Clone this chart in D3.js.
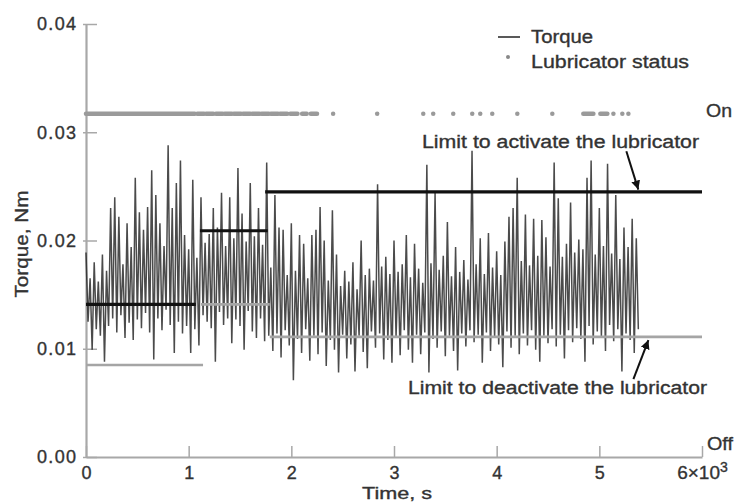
<!DOCTYPE html>
<html>
<head>
<meta charset="utf-8">
<title>Torque and lubricator status</title>
<script src="https://cdn.jsdelivr.net/npm/d3@7/dist/d3.min.js"></script>
<style>
  body { margin: 0; background: #fff; }
  text { font-family: "Liberation Sans", Arial, Helvetica, sans-serif; fill: #333; stroke: #333; stroke-width: 0.35px; }
</style>
</head>
<body>
<script>
// torque samples, one every torqueStep seconds starting at 0 (Nm)
const torqueStep = 20;
const torque = [
  0.0189, 0.0125, 0.0165, 0.0099, 0.0180, 0.0118, 0.0162, 0.0112, 0.0187, 0.0088,
  0.0172, 0.0121, 0.0230, 0.0128, 0.0240, 0.0115, 0.0222, 0.0131, 0.0178, 0.0110,
  0.0216, 0.0124, 0.0194, 0.0108, 0.0258, 0.0127, 0.0226, 0.0119, 0.0210, 0.0133,
  0.0231, 0.0115, 0.0265, 0.0090, 0.0242, 0.0128, 0.0216, 0.0117, 0.0195, 0.0136,
  0.0288, 0.0122, 0.0230, 0.0096, 0.0253, 0.0125, 0.0274, 0.0114, 0.0205, 0.0121,
  0.0192, 0.0096, 0.0256, 0.0118, 0.0184, 0.0103, 0.0240, 0.0131, 0.0198, 0.0125,
  0.0206, 0.0119, 0.0230, 0.0088, 0.0212, 0.0134, 0.0244, 0.0122, 0.0195, 0.0128,
  0.0240, 0.0105, 0.0202, 0.0127, 0.0267, 0.0121, 0.0225, 0.0099, 0.0199, 0.0135,
  0.0253, 0.0116, 0.0204, 0.0110, 0.0230, 0.0128, 0.0196, 0.0107, 0.0272, 0.0112,
  0.0175, 0.0098, 0.0242, 0.0114, 0.0212, 0.0092, 0.0210, 0.0117, 0.0168, 0.0103,
  0.0216, 0.0071, 0.0172, 0.0109, 0.0205, 0.0096, 0.0197, 0.0118, 0.0165, 0.0089,
  0.0205, 0.0112, 0.0210, 0.0095, 0.0231, 0.0115, 0.0200, 0.0084, 0.0163, 0.0108,
  0.0228, 0.0099, 0.0187, 0.0078, 0.0158, 0.0113, 0.0172, 0.0091, 0.0162, 0.0104,
  0.0180, 0.0079, 0.0155, 0.0112, 0.0200, 0.0097, 0.0168, 0.0082, 0.0174, 0.0116,
  0.0163, 0.0101, 0.0252, 0.0114, 0.0176, 0.0090, 0.0185, 0.0108, 0.0169, 0.0087,
  0.0200, 0.0111, 0.0171, 0.0094, 0.0178, 0.0117, 0.0205, 0.0099, 0.0166, 0.0087,
  0.0197, 0.0113, 0.0174, 0.0095, 0.0161, 0.0115, 0.0270, 0.0078, 0.0179, 0.0109,
  0.0244, 0.0101, 0.0173, 0.0116, 0.0186, 0.0093, 0.0217, 0.0112, 0.0167, 0.0098,
  0.0194, 0.0080, 0.0171, 0.0114, 0.0182, 0.0102, 0.0164, 0.0117, 0.0283, 0.0106,
  0.0178, 0.0113, 0.0202, 0.0087, 0.0169, 0.0115, 0.0207, 0.0098, 0.0175, 0.0111,
  0.0190, 0.0104, 0.0168, 0.0083, 0.0199, 0.0116, 0.0222, 0.0101, 0.0230, 0.0112,
  0.0258, 0.0095, 0.0181, 0.0114, 0.0224, 0.0103, 0.0177, 0.0117, 0.0220, 0.0099,
  0.0186, 0.0088, 0.0219, 0.0112, 0.0203, 0.0105, 0.0176, 0.0118, 0.0272, 0.0102,
  0.0239, 0.0113, 0.0185, 0.0091, 0.0197, 0.0117, 0.0235, 0.0106, 0.0189, 0.0119,
  0.0201, 0.0109, 0.0192, 0.0088, 0.0258, 0.0121, 0.0274, 0.0104, 0.0187, 0.0116,
  0.0230, 0.0111, 0.0195, 0.0098, 0.0271, 0.0122, 0.0188, 0.0107, 0.0242, 0.0118,
  0.0183, 0.0079, 0.0212, 0.0114, 0.0194, 0.0108, 0.0220, 0.0096, 0.0202, 0.0118
];

// limit to activate the lubricator: [start s, end s, torque]
const activateLimit = [[0, 1070, 0.0141], [1110, 1770, 0.0209], [1745, 6000, 0.0245]];
// limit to deactivate the lubricator
const deactivateLimit = [[0, 1140, 0.0085], [1120, 1790, 0.0141], [1790, 6000, 0.0111]];

// times when the lubricator was on: [start s, end s]
const lubricatorOn = [
  [0, 1060], [1085, 1150], [1170, 1240], [1265, 1330], [1350, 1420], [1440, 1510],
  [1530, 1600], [1620, 1690], [1710, 1780], [1800, 1870], [1890, 1960], [1990, 2060],
  [2105, 2150], [2190, 2250], [2407, 2407], [2836, 2836], [3285, 3285], [3382, 3382],
  [3577, 3577], [3762, 3762], [3840, 3840], [3957, 3957], [4201, 4201], [4542, 4542],
  [4844, 4942], [5010, 5078], [5137, 5137], [5224, 5224], [5283, 5283]
];
const onLevel = 0.0317;

const xTicks = [0, 1000, 2000, 3000, 4000, 5000, 6000];
const yTicks = [0, 0.01, 0.02, 0.03, 0.04];

const width = 735, height = 503;
const svg = d3.select("body").append("svg").attr("width", width).attr("height", height);

const x = d3.scaleLinear().domain([0, 6000]).range([86, 702]);
const y = d3.scaleLinear().domain([0, 0.04]).range([457, 24]);

// axes
const xAxis = svg.append("g")
  .attr("transform", `translate(0,${y(0)})`)
  .call(d3.axisBottom(x).tickValues(xTicks).tickSizeInner(-11).tickSizeOuter(0).tickPadding(9)
    .tickFormat(d => d === 6000 ? "" : d3.format("d")(d / 1000)));
xAxis.select(".domain").attr("stroke", "#a8a8a8").attr("stroke-width", 2.2);
xAxis.selectAll(".tick line").attr("stroke", "#a8a8a8").attr("stroke-width", 1.5);
xAxis.selectAll(".tick text").attr("font-size", 18).attr("fill", "#333")
  .attr("font-family", "Liberation Sans, Arial, sans-serif");
const last = xAxis.selectAll(".tick text").filter(d => d === 6000);
last.append("tspan").attr("font-size", 19).text("6×10");
last.append("tspan").attr("dy", -7).attr("font-size", 14).text("3");
last.attr("text-anchor", "middle");

const yAxis = svg.append("g")
  .attr("transform", `translate(${x(0)},0)`)
  .call(d3.axisLeft(y).tickValues(yTicks).tickSizeInner(-11).tickSizeOuter(0).tickPadding(10)
    .tickFormat(d3.format(".2f")));
yAxis.select(".domain").attr("stroke", "#a8a8a8").attr("stroke-width", 2.2);
yAxis.selectAll(".tick line").attr("stroke", "#a8a8a8").attr("stroke-width", 1.5).attr("x1", -3);
yAxis.selectAll(".tick text").attr("font-size", 18).attr("fill", "#333")
  .attr("font-family", "Liberation Sans, Arial, sans-serif").attr("textLength", 39).attr("x", -10);

// lubricator status
svg.append("g").selectAll("line").data(lubricatorOn).join("line")
  .attr("x1", d => x(d[0])).attr("x2", d => x(d[1]))
  .attr("y1", y(onLevel)).attr("y2", y(onLevel))
  .attr("stroke", "#9a9a9a").attr("stroke-width", 4.5).attr("stroke-linecap", "round");

// torque
const line = d3.line().x((d, i) => x(i * torqueStep)).y(d => y(d));
svg.append("path").datum(torque)
  .attr("d", line)
  .attr("fill", "none").attr("stroke", "#1e1e1e").attr("stroke-width", 1.5)
  .attr("stroke-opacity", 0.8);

// limit lines
svg.append("g").selectAll("line").data(deactivateLimit).join("line")
  .attr("x1", d => x(d[0])).attr("x2", d => x(d[1]))
  .attr("y1", d => y(d[2])).attr("y2", d => y(d[2]))
  .attr("stroke", "#a5a5a5").attr("stroke-width", 2.6);
svg.append("g").selectAll("line").data(activateLimit).join("line")
  .attr("x1", d => x(d[0])).attr("x2", d => x(d[1]))
  .attr("y1", d => y(d[2])).attr("y2", d => y(d[2]))
  .attr("stroke", "#111").attr("stroke-width", 3.2);

// arrows
svg.append("defs").append("marker")
  .attr("id", "head").attr("viewBox", "0 0 10 10").attr("refX", 10).attr("refY", 5)
  .attr("markerWidth", 4.5).attr("markerHeight", 4.5).attr("orient", "auto")
  .append("path").attr("d", "M0,0 L10,5 L0,10 z").attr("fill", "#111");

const arrows = [
  { from: [5263, 0.02825], to: [5380, 0.0247] },
  { from: [5332, 0.0072], to: [5478, 0.0108] }
];
svg.append("g").selectAll("line").data(arrows).join("line")
  .attr("x1", d => x(d.from[0])).attr("y1", d => y(d.from[1]))
  .attr("x2", d => x(d.to[0])).attr("y2", d => y(d.to[1]))
  .attr("stroke", "#111").attr("stroke-width", 2).attr("marker-end", "url(#head)");

// text labels
function label(txt, px, py, opts = {}) {
  const t = svg.append("text").attr("x", px).attr("y", py)
    .attr("font-size", opts.size || 18).text(txt);
  if (opts.len) t.attr("textLength", opts.len).attr("lengthAdjust", "spacingAndGlyphs");
  if (opts.anchor) t.attr("text-anchor", opts.anchor);
  if (opts.rotate) t.attr("transform", `rotate(-90,${px},${py})`);
  return t;
}

label("Limit to activate the lubricator", 422, 148, { len: 277 });
label("Limit to deactivate the lubricator", 408, 394, { len: 299 });
label("On", 706, 117, { len: 26 });
label("Off", 707, 450, { len: 26 });
label("Time, s", 397, 499, { anchor: "middle", len: 70, size: 17 });
label("Torque, Nm", 28, 244, { anchor: "middle", len: 107, rotate: true });

// legend
svg.append("line").attr("x1", 498).attr("x2", 520).attr("y1", 37).attr("y2", 37)
  .attr("stroke", "#222").attr("stroke-width", 1.5);
label("Torque", 531, 43, { len: 62 });
svg.append("circle").attr("cx", 508).attr("cy", 57).attr("r", 2).attr("fill", "#888");
label("Lubricator status", 531, 68, { len: 158 });
</script>
</body>
</html>
